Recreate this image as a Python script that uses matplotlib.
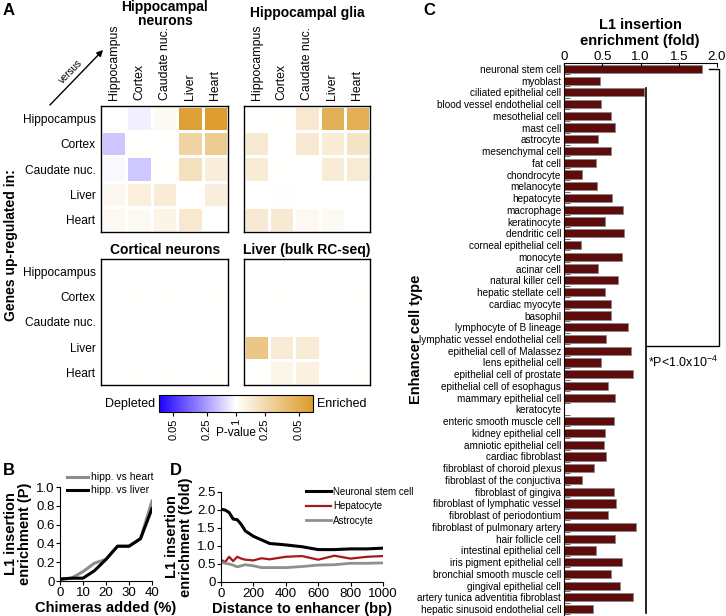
import numpy as np
import matplotlib
matplotlib.use("Agg")
import matplotlib.pyplot as plt
from matplotlib.colors import LinearSegmentedColormap
from matplotlib.cm import ScalarMappable
from matplotlib.colors import Normalize

plt.rcParams['font.family'] = ['Liberation Sans', 'DejaVu Sans']
plt.rcParams['mathtext.default'] = 'regular'

# ---- data ----
regions = ["Hippocampus", "Cortex", "Caudate nuc.", "Liver", "Heart"]

# signed -log10(P): negative = depleted, positive = enriched
hipp_neurons = [[0.00, -0.10, 0.08, 1.48, 1.55],
                [-0.36, 0.00, 0.00, 0.68, 0.80],
                [-0.04, -0.34, 0.00, 0.48, 0.27],
                [0.12, 0.26, 0.30, 0.00, 0.27],
                [0.10, 0.08, 0.18, 0.35, 0.00]]
hipp_glia = [[0.00, 0.00, 0.35, 1.25, 1.25],
             [0.33, 0.00, 0.33, 0.30, 0.42],
             [0.30, 0.00, 0.00, 0.30, 0.32],
             [0.00, 0.02, 0.00, 0.00, 0.00],
             [0.33, 0.33, 0.10, 0.08, 0.00]]
cort_neurons = [[0.0] * 5 for _ in range(5)]
liver_bulk = [[0.00, 0.00, 0.00, 0.00, 0.00],
              [0.00, 0.00, 0.00, 0.00, 0.00],
              [0.00, 0.00, 0.00, 0.00, 0.00],
              [0.90, 0.30, 0.30, 0.00, 0.00],
              [0.00, 0.15, 0.22, 0.00, 0.00]]
cbar_ticks = [-1.301, -0.602, 0, 0.602, 1.301]
cbar_labels = ["0.05", "0.25", "1", "0.25", "0.05"]

chimeras = [0, 5, 10, 15, 20, 25, 30, 35, 40]
p_heart = [0.02, 0.03, 0.10, 0.19, 0.23, 0.37, 0.37, 0.45, 0.85]
p_liver = [0.02, 0.03, 0.03, 0.11, 0.23, 0.37, 0.37, 0.45, 0.77]

distance = [0, 25, 50, 75, 100, 125, 150, 200, 250, 300, 400, 500, 600, 700, 800, 900, 1000]
nsc = [2.02, 2.00, 1.93, 1.75, 1.73, 1.60, 1.42, 1.27, 1.17, 1.07, 1.03, 0.98, 0.90, 0.90, 0.92, 0.92, 0.94]
hepato = [0.62, 0.55, 0.70, 0.58, 0.70, 0.65, 0.62, 0.60, 0.66, 0.63, 0.70, 0.72, 0.62, 0.73, 0.65, 0.70, 0.72]
astro = [0.55, 0.52, 0.50, 0.47, 0.42, 0.45, 0.48, 0.45, 0.40, 0.40, 0.40, 0.43, 0.47, 0.48, 0.52, 0.52, 0.53]

cell_types = ["neuronal stem cell", "myoblast", "ciliated epithelial cell",
              "blood vessel endothelial cell", "mesothelial cell", "mast cell",
              "astrocyte", "mesenchymal cell", "fat cell", "chondrocyte",
              "melanocyte", "hepatocyte", "macrophage", "keratinocyte",
              "dendritic cell", "corneal epithelial cell", "monocyte", "acinar cell",
              "natural killer cell", "hepatic stellate cell", "cardiac myocyte",
              "basophil", "lymphocyte of B lineage", "lymphatic vessel endothelial cell",
              "epithelial cell of Malassez", "lens epithelial cell",
              "epithelial cell of prostate", "epithelial cell of esophagus",
              "mammary epithelial cell", "keratocyte", "enteric smooth muscle cell",
              "kidney epithelial cell", "amniotic epithelial cell", "cardiac fibroblast",
              "fibroblast of choroid plexus", "fibroblast of the conjuctiva",
              "fibroblast of gingiva", "fibroblast of lymphatic vessel",
              "fibroblast of periodontium", "fibroblast of pulmonary artery",
              "hair follicle cell", "intestinal epithelial cell",
              "iris pigment epithelial cell", "bronchial smooth muscle cell",
              "gingival epithelial cell", "artery tunica adventitia fibroblast",
              "hepatic sinusoid endothelial cell"]
fold = [1.81, 0.47, 1.04, 0.49, 0.62, 0.67, 0.45, 0.61, 0.42, 0.23,
        0.43, 0.63, 0.77, 0.54, 0.79, 0.22, 0.76, 0.44, 0.70, 0.54,
        0.62, 0.62, 0.84, 0.55, 0.88, 0.48, 0.90, 0.58, 0.67, 0.0,
        0.66, 0.54, 0.52, 0.55, 0.39, 0.23, 0.66, 0.68, 0.58, 0.94,
        0.67, 0.42, 0.76, 0.61, 0.73, 0.90, 0.38]

# ---- figure ----
W, H = 726, 616
fig = plt.figure(figsize=(W / 100, H / 100), dpi=100)


def add_ax(x, y, w, h):
    # pixel box (from top-left) -> figure fraction
    return fig.add_axes([x / W, 1 - (y + h) / H, w / W, h / H])


cmap = LinearSegmentedColormap.from_list("pv", ["#2000ff", "#ffffff", "#dc9a28"])


def heat(ax, data, rows=False, cols=False):
    ax.pcolormesh(np.array(data), cmap=cmap, vmin=-1.6, vmax=1.6,
                  edgecolors="white", linewidth=1)
    ax.set_xlim(0, 5)
    ax.set_ylim(5, 0)
    ax.xaxis.tick_top()
    ax.set_xticks(np.arange(5) + 0.5)
    ax.set_yticks(np.arange(5) + 0.5)
    ax.set_xticklabels(regions if cols else [], rotation=90, fontsize=8.8)
    ax.set_yticklabels(regions if rows else [], fontsize=8.6)
    ax.tick_params(length=0, pad=4)
    for s in ax.spines.values():
        s.set_linewidth(1)
        s.set_zorder(5)


axA1 = add_ax(101, 106, 127, 126)
heat(axA1, hipp_neurons, rows=True, cols=True)
axA2 = add_ax(244, 106, 126, 126)
heat(axA2, hipp_glia, cols=True)
axA3 = add_ax(101, 259, 127, 126)
heat(axA3, cort_neurons, rows=True)
axA4 = add_ax(244, 259, 126, 126)
heat(axA4, liver_bulk)

fig.text(165 / W, 1 - 14 / H, "Hippocampal\nneurons", ha="center", va="center",
         fontsize=10, fontweight="bold", linespacing=1.0)
fig.text(307 / W, 1 - 13 / H, "Hippocampal glia", ha="center", va="center",
         fontsize=10, fontweight="bold")
fig.text(165 / W, 1 - 250 / H, "Cortical neurons", ha="center", va="center",
         fontsize=10, fontweight="bold")
fig.text(307 / W, 1 - 250 / H, "Liver (bulk RC-seq)", ha="center", va="center",
         fontsize=10, fontweight="bold")
fig.text(11 / W, 1 - 245 / H, "Genes up-regulated in:", ha="center", va="center",
         rotation=90, fontsize=10, fontweight="bold")
fig.text(3 / W, 1 - 3 / H, "A", ha="left", va="top", fontsize=12, fontweight="bold")

# versus arrow
axArrow = fig.add_axes([0, 0, 1, 1], facecolor="none")
axArrow.set_xlim(0, W)
axArrow.set_ylim(H, 0)
axArrow.axis("off")
axArrow.annotate("", xy=(105, 48), xytext=(48, 107),
                 arrowprops=dict(arrowstyle="-|>", color="black", lw=1, mutation_scale=9))
axArrow.text(71, 72, "versus", rotation=46, ha="center", va="center", fontsize=7)

# colorbar
cax = add_ax(159, 395, 154, 17)
cb = fig.colorbar(ScalarMappable(norm=Normalize(-1.6, 1.6), cmap=cmap), cax=cax,
                  orientation="horizontal")
cb.set_ticks(cbar_ticks)
cb.set_ticklabels(cbar_labels, rotation=90, fontsize=8)
cb.outline.set_linewidth(0.8)
cax.tick_params(length=3, pad=2)
fig.text(155 / W, 1 - 404 / H, "Depleted", ha="right", va="center", fontsize=9)
fig.text(317 / W, 1 - 404 / H, "Enriched", ha="left", va="center", fontsize=9)
fig.text(236 / W, 1 - 433 / H, "P-value", ha="center", va="center", fontsize=8.5)

# ---- B ----
axB = add_ax(60, 487, 92, 94)
axB.plot(chimeras, p_heart, color="#8c8c8c", lw=2.2, label="hipp. vs heart")
axB.plot(chimeras, p_liver, color="black", lw=2.2, label="hipp. vs liver")
axB.set_xlim(0, 40)
axB.set_ylim(0, 1.0)
axB.set_xticks([0, 10, 20, 30, 40])
axB.set_yticks([0, 0.2, 0.4, 0.6, 0.8, 1.0])
axB.set_yticklabels(["0", "0.2", "0.4", "0.6", "0.8", "1.0"])
axB.tick_params(labelsize=9.5, length=3, pad=1)
for s in ["top", "right"]:
    axB.spines[s].set_visible(False)
axB.set_xlabel("Chimeras added (%)", fontsize=10.5, fontweight="bold", labelpad=2)
axB.set_ylabel("L1 insertion\nenrichment (P)", fontsize=10.5, fontweight="bold",
               labelpad=3, linespacing=1.0)
axB.legend(loc="upper left", bbox_to_anchor=(0.03, 1.2), frameon=False, fontsize=7.5,
           handlelength=2.0, handletextpad=0.3, labelspacing=0.3, borderaxespad=0)
fig.text(3 / W, 1 - 463 / H, "B", ha="left", va="top", fontsize=12, fontweight="bold")

# ---- D ----
axD = add_ax(221, 492, 162, 90)
axD.plot(distance, nsc, color="black", lw=2.2, label="Neuronal stem cell")
axD.plot(distance, hepato, color="#a3191c", lw=1.6, label="Hepatocyte")
axD.plot(distance, astro, color="#8f8f8f", lw=2.0, label="Astrocyte")
axD.set_xlim(0, 1000)
axD.set_ylim(0, 2.5)
axD.set_xticks([0, 200, 400, 600, 800, 1000])
axD.set_yticks([0, 0.5, 1.0, 1.5, 2.0, 2.5])
axD.set_yticklabels(["0", "0.5", "1.0", "1.5", "2.0", "2.5"])
axD.tick_params(labelsize=9.5, length=3, pad=1)
for s in ["top", "right"]:
    axD.spines[s].set_visible(False)
axD.set_xlabel("Distance to enhancer (bp)", fontsize=10.5, fontweight="bold", labelpad=2)
axD.set_ylabel("L1 insertion\nenrichment (fold)", fontsize=10.5, fontweight="bold",
               labelpad=3, linespacing=1.0)
axD.legend(loc="upper left", bbox_to_anchor=(0.5, 1.1), frameon=False, fontsize=7,
           handlelength=2.6, handletextpad=0.2, labelspacing=0.45, borderaxespad=0)
fig.text(170 / W, 1 - 463 / H, "D", ha="left", va="top", fontsize=12, fontweight="bold")

# ---- C ----
axC = add_ax(564, 63, 153, 552)
ypos = np.arange(len(cell_types))
axC.barh(ypos, fold, height=0.7, color="#5e0b0b", edgecolor="#8a8a8a", linewidth=0.7)
axC.set_xlim(0, 2.0)
axC.set_ylim(len(cell_types) - 0.5, -0.5)
axC.xaxis.tick_top()
axC.set_xticks([0, 0.5, 1.0, 1.5, 2.0])
axC.set_xticklabels(["0", "0.5", "1.0", "1.5", "2.0"])
axC.tick_params(axis="x", labelsize=9.5, direction="in", length=3, pad=0)
axC.set_yticks(ypos)
axC.set_yticklabels(cell_types, fontsize=7.2)
axC.set_yticks(ypos + 0.45, minor=True)
axC.tick_params(axis="y", which="major", length=0, pad=2)
axC.tick_params(axis="y", which="minor", direction="in", length=4, color="#555555")
for s in ["bottom", "right"]:
    axC.spines[s].set_visible(False)
fig.text(640 / W, 1 - 33 / H, "L1 insertion\nenrichment (fold)", ha="center", va="center",
         fontsize=10.5, fontweight="bold", linespacing=1.15)
axC.set_ylabel("Enhancer cell type", fontsize=10.5, fontweight="bold")
axC.yaxis.set_label_coords((423 - 564) / 153, 0.5)

# significance bracket
sig_x, top_x = 1.07, 2.02
axC.plot([sig_x, sig_x], [1.6, 46.3], color="black", lw=1.2, clip_on=False)
axC.plot([1.9, top_x, top_x, sig_x], [0, 0, 23.6, 23.6], color="black", lw=1.0,
         clip_on=False)
axC.text(1.1, 25.0, "*P<1.0x10$^{-4}$", fontsize=9, ha="left", va="center")
fig.text(423 / W, 1 - 3 / H, "C", ha="left", va="top", fontsize=12, fontweight="bold")

fig.savefig("out.png", dpi=100)
